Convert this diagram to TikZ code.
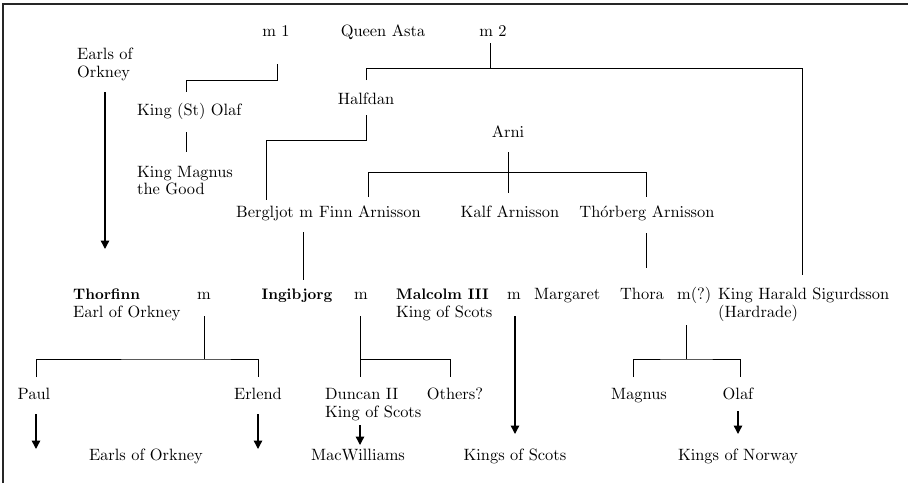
\documentclass[tikz,border=0pt]{standalone}
\usetikzlibrary{arrows.meta}
\font\treerm=cmr10 at 16.4pt
\font\treebf=cmbx10 at 15.2pt
\newcommand{\oacute}{{\accent19 o}}
\begin{document}
\begin{tikzpicture}[x=1pt,y=-1pt,
  txt/.style={inner sep=0pt, font=\treerm},
  lbl/.style={txt, anchor=base},
  lblw/.style={txt, anchor=base west},
  lble/.style={txt, anchor=base east},
  bold/.style={font=\treebf},
  link/.style={line width=0.95pt},
  desc/.style={line width=1.4pt, -{Triangle[width=8.5pt,length=8.5pt]}},
  frameline/.style={line width=1.6pt, black!85}]
\useasboundingbox (0,0) rectangle (908,483);
\draw[frameline] (3,483) -- (3,4) -- (908,4);

% ---- generation 0
\node[lbl] (m1) at (276,36) {m 1};
\node[lbl] (asta) at (383,36) {Queen Asta};
\node[lbl] (m2) at (493,36) {m 2};
\node[lblw] (earlsA) at (77,59) {Earls of};
\node[lblw] (earlsB) at (77,77) {Orkney};

% ---- generation 1
\node[lblw] (olaf) at (137,115) {King (St) Olaf};
\node[lbl] (halfdan) at (366,104) {Halfdan};
\node[lblw] (magnusA) at (137,177) {King Magnus};
\node[lblw] (magnusB) at (137,194) {the Good};
\node[lbl] (arni) at (508,137) {Arni};

% ---- generation 2
\node[lblw] (bergljot) at (236,217) {Bergljot m};
\node[lble] (finn) at (421,217) {Finn Arnisson};
\node[lbl] (kalf) at (510,217) {Kalf Arnisson};
\node[lbl] (thorberg) at (647,217) {Th\oacute rberg Arnisson};

% ---- generation 3
\node[lblw,bold] (thorfinn) at (73,299) {Thorfinn};
\node[lblw] (thorfinnT) at (73,317) {Earl of Orkney};
\node[lbl] (mT) at (204,299) {m};
\node[lbl,bold] (ingibjorg) at (297,299) {Ingibjorg};
\node[lbl] (mI) at (361,299) {m};
\node[lblw,bold] (malcolm) at (396,299) {Malcolm III};
\node[lblw] (malcolmT) at (396,317) {King of Scots};
\node[lbl] (mM) at (514,299) {m};
\node[lblw] (margaret) at (534,299) {Margaret};
\node[lbl] (thora) at (642,299) {Thora};
\node[lblw] (mH) at (677,299) {m(?)};
\node[lblw] (harald) at (718,299) {King Harald Sigurdsson};
\node[lblw] (haraldT) at (718,317) {(Hardrade)};

% ---- generation 4
\node[lbl] (paul) at (34,399) {Paul};
\node[lbl] (erlend) at (258,399) {Erlend};
\node[lblw] (duncan) at (325,399) {Duncan II};
\node[lblw] (duncanT) at (325,417) {King of Scots};
\node[lbl] (others) at (455,399) {Others?};
\node[lbl] (magnus) at (639,399) {Magnus};
\node[lbl] (olafN) at (738,399) {Olaf};

% ---- descendants
\node[lbl] (earlsO) at (146,460) {Earls of Orkney};
\node[lbl] (macw) at (358,460) {MacWilliams};
\node[lbl] (kscots) at (515,460) {Kings of Scots};
\node[lbl] (knorway) at (738,460) {Kings of Norway};

% ---- connector points
\coordinate (m1a) at (277,64);
\coordinate (m1b) at (277,80);
\coordinate (olafUp) at (186,92);
\coordinate (olafDn) at (186,132);
\coordinate (magUp) at (186,152);
\coordinate (m2a) at (490,43);
\coordinate (m2b) at (490,68);
\coordinate (halfUp) at (366,80);
\coordinate (barL) at (366,68);
\coordinate (barR) at (802,68);
\coordinate (harUp) at (802,275);
\coordinate (halfDn) at (366,115);
\coordinate (halfJ) at (366,140);
\coordinate (bergUp) at (266,200);
\coordinate (arniDn) at (508,152);
\coordinate (kalfUp) at (508,193);
\coordinate (arniL) at (368,172);
\coordinate (arniR) at (646,172);
\coordinate (finnUp) at (368,197);
\coordinate (thorbUp) at (646,197);
\coordinate (bmDn) at (303,232);
\coordinate (ingUp) at (303,280);
\coordinate (thorbDn) at (646,233);
\coordinate (thoraUp) at (646,268);
\coordinate (mTdn) at (204,316);
\coordinate (mTj) at (204,359);
\coordinate (paulUp) at (36,377);
\coordinate (erlUp) at (258,377);
\coordinate (mIdn) at (360,316);
\coordinate (mIj) at (360,359);
\coordinate (dunUp) at (360,377);
\coordinate (othUp) at (450,377);
\coordinate (mHdn) at (686,325);
\coordinate (mHj) at (686,359);
\coordinate (magnUp) at (633,377);
\coordinate (olNUp) at (740,377);
% arrow ends
\coordinate (eoA) at (105,92);
\coordinate (eoB) at (105,249);
\coordinate (paulA) at (36,414);
\coordinate (paulB) at (36,449);
\coordinate (erlA) at (258,414);
\coordinate (erlB) at (258,449);
\coordinate (dunA) at (360,425);
\coordinate (dunB) at (360,445);
\coordinate (malA) at (515,316);
\coordinate (malB) at (515,434);
\coordinate (olA) at (738,411);
\coordinate (olB) at (738,434);

% ---- tree lines
\draw[link] (m1a) -- (m1b) -| (olafUp);
\draw[link] (olafDn) -- (magUp);
\draw[link] (m2a) -- (m2b);
\draw[link] (halfUp) -- (barL) -- (barR) -- (harUp);
\draw[link] (halfDn) -- (halfJ) -| (bergUp);
\draw[link] (arniDn) -- (kalfUp);
\draw[link] (finnUp) -- (arniL) -- (arniR) -- (thorbUp);
\draw[link] (bmDn) -- (ingUp);
\draw[link] (thorbDn) -- (thoraUp);
\draw[link] (mTdn) -- (mTj);
\draw[link] (paulUp) |- (mTj) -| (erlUp);
\draw[link] (mIdn) -- (dunUp);
\draw[link] (mIj) -| (othUp);
\draw[link] (mHdn) -- (mHj);
\draw[link] (magnUp) |- (mHj) -| (olNUp);

% ---- descent arrows
\draw[desc] (eoA) -- (eoB);
\draw[desc] (paulA) -- (paulB);
\draw[desc] (erlA) -- (erlB);
\draw[desc] (dunA) -- (dunB);
\draw[desc] (malA) -- (malB);
\draw[desc] (olA) -- (olB);
\end{tikzpicture}
\end{document}
